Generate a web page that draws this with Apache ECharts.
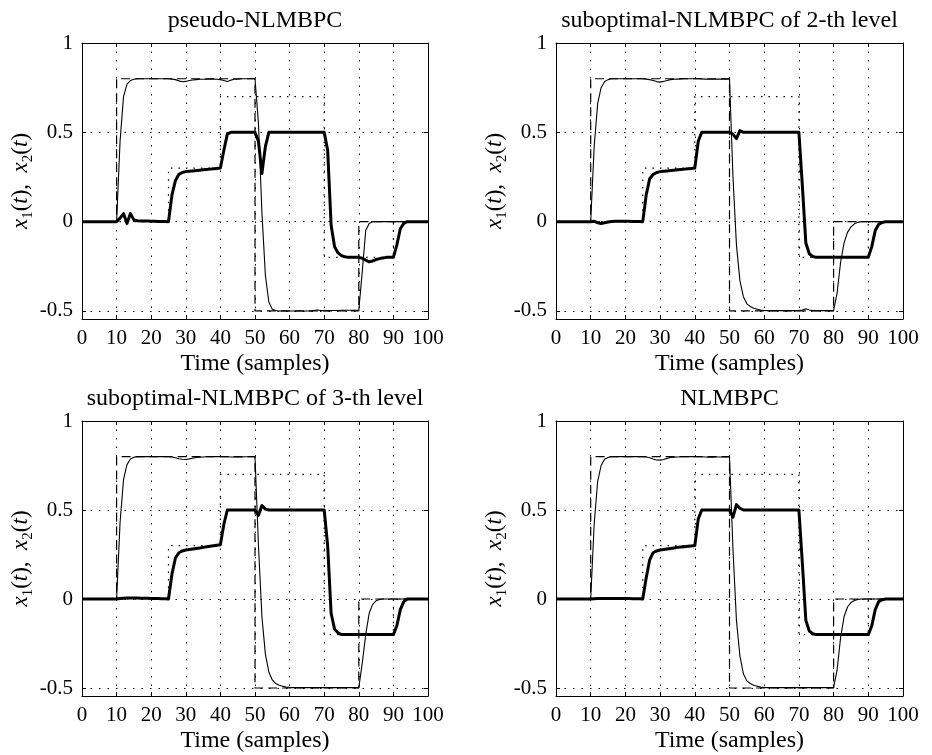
<!DOCTYPE html>
<html>
<head>
<meta charset="utf-8">
<script src="https://cdn.jsdelivr.net/npm/echarts@6/dist/echarts.min.js"></script>
<style>
  html, body { margin: 0; background: #fff; }
  #chart { width: 932px; height: 755px; }
</style>
</head>
<body>
<div id="chart"></div>
<script>
const panelTitles = [
  "pseudo-NLMBPC",
  "suboptimal-NLMBPC of 2-th level",
  "suboptimal-NLMBPC of 3-th level",
  "NLMBPC"
];
const yTicks = [-0.5, 0, 0.5, 1];

// set-points (step changes)
const refX1Time = [0, 10, 50, 80, 100];
const refX1Value = [0, 0.8, -0.5, 0, 0];
const refX2Time = [0, 25, 40, 70, 90, 100];
const refX2Value = [0, 0.3, 0.7, -0.2, 0, 0];

// responses, one value per sample t = 0..100
const x1Pseudo = [
  0, 0, 0, 0, 0, 0, 0, 0, 0, 0,
  0, 0.45, 0.7, 0.77, 0.79, 0.797, 0.8, 0.8, 0.8, 0.8,
  0.8, 0.8, 0.8, 0.8, 0.8, 0.8, 0.798, 0.795, 0.788, 0.783,
  0.785, 0.79, 0.793, 0.795, 0.797, 0.797, 0.798, 0.798, 0.798, 0.797,
  0.795, 0.79, 0.785, 0.792, 0.797, 0.798, 0.8, 0.8, 0.8, 0.8,
  0.8, 0.55, 0.05, -0.3, -0.45, -0.49, -0.497, -0.5, -0.5, -0.5,
  -0.5, -0.5, -0.5, -0.5, -0.5, -0.5, -0.5, -0.497, -0.495, -0.497,
  -0.498, -0.498, -0.497, -0.497, -0.497, -0.496, -0.496, -0.496, -0.496, -0.496,
  -0.496, -0.28, -0.05, -0.01, 0, 0, 0, 0, 0, 0,
  0, 0, 0, 0, 0, 0, 0, 0, 0, 0,
  0
];
const x2Pseudo = [
  0, 0, 0, 0, 0, 0, 0, 0, 0, 0,
  0, 0.02, 0.045, -0.01, 0.045, 0.01, 0.005, 0.004, 0.003, 0.003,
  0.002, 0.002, 0.001, 0.001, 0.001, 0, 0.15, 0.23, 0.265, 0.275,
  0.28, 0.282, 0.284, 0.286, 0.288, 0.29, 0.292, 0.294, 0.296, 0.298,
  0.3, 0.4, 0.49, 0.5, 0.5, 0.5, 0.5, 0.5, 0.5, 0.5,
  0.5, 0.45, 0.27, 0.42, 0.5, 0.5, 0.5, 0.5, 0.5, 0.5,
  0.5, 0.5, 0.5, 0.5, 0.5, 0.5, 0.5, 0.5, 0.5, 0.5,
  0.5, 0.4, -0.02, -0.14, -0.175, -0.19, -0.197, -0.2, -0.2, -0.2,
  -0.2, -0.205, -0.215, -0.225, -0.22, -0.212, -0.207, -0.203, -0.2, -0.2,
  -0.2, -0.13, -0.04, -0.01, 0, 0, 0, 0, 0, 0,
  0
];
const x1Level2 = [
  0, 0, 0, 0, 0, 0, 0, 0, 0, 0,
  0, 0.42, 0.66, 0.75, 0.785, 0.795, 0.8, 0.8, 0.8, 0.8,
  0.8, 0.8, 0.8, 0.8, 0.8, 0.8, 0.798, 0.795, 0.79, 0.784,
  0.781, 0.785, 0.79, 0.795, 0.797, 0.798, 0.799, 0.8, 0.8, 0.8,
  0.8, 0.8, 0.799, 0.798, 0.797, 0.797, 0.798, 0.798, 0.798, 0.798,
  0.798, 0.25, -0.13, -0.33, -0.42, -0.46, -0.475, -0.485, -0.49, -0.495,
  -0.497, -0.498, -0.498, -0.498, -0.498, -0.498, -0.498, -0.498, -0.498, -0.498,
  -0.498, -0.495, -0.488, -0.495, -0.497, -0.498, -0.498, -0.498, -0.498, -0.498,
  -0.498, -0.4, -0.23, -0.12, -0.06, -0.03, -0.012, -0.004, 0, 0,
  0, 0, 0, 0, 0, 0, 0, 0, 0, 0,
  0
];
const x2Level2 = [
  0, 0, 0, 0, 0, 0, 0, 0, 0, 0,
  0, 0.002, -0.006, -0.01, -0.006, -0.002, 0.001, 0.002, 0.002, 0.002,
  0.002, 0.002, 0.001, 0.001, 0.001, 0, 0.15, 0.24, 0.265, 0.275,
  0.28, 0.282, 0.284, 0.286, 0.288, 0.29, 0.292, 0.294, 0.296, 0.298,
  0.3, 0.45, 0.5, 0.5, 0.5, 0.5, 0.5, 0.5, 0.5, 0.5,
  0.5, 0.49, 0.465, 0.51, 0.5, 0.5, 0.5, 0.5, 0.5, 0.5,
  0.5, 0.5, 0.5, 0.5, 0.5, 0.5, 0.5, 0.5, 0.5, 0.5,
  0.5, 0.2, -0.12, -0.18, -0.195, -0.2, -0.2, -0.2, -0.2, -0.2,
  -0.2, -0.2, -0.2, -0.2, -0.2, -0.2, -0.2, -0.2, -0.2, -0.2,
  -0.2, -0.14, -0.05, -0.015, -0.005, 0, 0, 0, 0, 0,
  0
];
const x1Level3 = [
  0, 0, 0, 0, 0, 0, 0, 0, 0, 0,
  0, 0.43, 0.67, 0.755, 0.787, 0.796, 0.8, 0.8, 0.8, 0.8,
  0.8, 0.8, 0.8, 0.8, 0.8, 0.8, 0.798, 0.794, 0.788, 0.785,
  0.784, 0.787, 0.791, 0.795, 0.797, 0.798, 0.799, 0.8, 0.8, 0.8,
  0.8, 0.8, 0.799, 0.798, 0.798, 0.798, 0.798, 0.799, 0.799, 0.799,
  0.799, 0.3, -0.1, -0.31, -0.41, -0.455, -0.475, -0.485, -0.49, -0.495,
  -0.497, -0.498, -0.498, -0.498, -0.498, -0.498, -0.498, -0.498, -0.498, -0.498,
  -0.498, -0.498, -0.498, -0.498, -0.498, -0.498, -0.498, -0.498, -0.498, -0.498,
  -0.498, -0.36, -0.2, -0.08, -0.03, -0.01, -0.003, 0, 0, 0,
  0, 0, 0, 0, 0, 0, 0, 0, 0, 0,
  0
];
const x2Level3 = [
  0, 0, 0, 0, 0, 0, 0, 0, 0, 0,
  0, 0.003, 0.004, 0.005, 0.005, 0.005, 0.005, 0.004, 0.004, 0.004,
  0.003, 0.003, 0.003, 0.002, 0.002, 0, 0.14, 0.23, 0.26, 0.27,
  0.275, 0.278, 0.281, 0.284, 0.287, 0.29, 0.293, 0.296, 0.299, 0.302,
  0.305, 0.42, 0.5, 0.5, 0.5, 0.5, 0.5, 0.5, 0.5, 0.5,
  0.5, 0.47, 0.525, 0.505, 0.5, 0.5, 0.5, 0.5, 0.5, 0.5,
  0.5, 0.5, 0.5, 0.5, 0.5, 0.5, 0.5, 0.5, 0.5, 0.5,
  0.5, 0.3, -0.08, -0.17, -0.19, -0.2, -0.2, -0.2, -0.2, -0.2,
  -0.2, -0.2, -0.2, -0.2, -0.2, -0.2, -0.2, -0.2, -0.2, -0.2,
  -0.2, -0.15, -0.06, -0.015, 0, 0, 0, 0, 0, 0,
  0
];
const x1Full = [
  0, 0, 0, 0, 0, 0, 0, 0, 0, 0,
  0, 0.42, 0.66, 0.75, 0.785, 0.795, 0.8, 0.8, 0.8, 0.8,
  0.8, 0.8, 0.8, 0.8, 0.8, 0.8, 0.798, 0.794, 0.787, 0.781,
  0.78, 0.784, 0.79, 0.795, 0.797, 0.798, 0.799, 0.8, 0.8, 0.8,
  0.8, 0.8, 0.799, 0.798, 0.797, 0.797, 0.798, 0.798, 0.798, 0.798,
  0.798, 0.28, -0.12, -0.32, -0.42, -0.46, -0.475, -0.485, -0.49, -0.495,
  -0.497, -0.498, -0.498, -0.498, -0.498, -0.498, -0.498, -0.498, -0.498, -0.498,
  -0.498, -0.498, -0.498, -0.498, -0.498, -0.498, -0.498, -0.498, -0.498, -0.498,
  -0.498, -0.4, -0.22, -0.1, -0.045, -0.02, -0.008, -0.002, 0, 0,
  0, 0, 0, 0, 0, 0, 0, 0, 0, 0,
  0
];
const x2Full = [
  0, 0, 0, 0, 0, 0, 0, 0, 0, 0,
  0, 0.002, 0.003, 0.003, 0.003, 0.003, 0.003, 0.003, 0.003, 0.003,
  0.003, 0.003, 0.002, 0.002, 0.002, 0, 0.12, 0.22, 0.26, 0.27,
  0.275, 0.278, 0.281, 0.284, 0.287, 0.29, 0.292, 0.294, 0.296, 0.298,
  0.3, 0.45, 0.5, 0.5, 0.5, 0.5, 0.5, 0.5, 0.5, 0.5,
  0.5, 0.46, 0.53, 0.51, 0.5, 0.5, 0.5, 0.5, 0.5, 0.5,
  0.5, 0.5, 0.5, 0.5, 0.5, 0.5, 0.5, 0.5, 0.5, 0.5,
  0.5, 0.2, -0.12, -0.18, -0.195, -0.2, -0.2, -0.2, -0.2, -0.2,
  -0.2, -0.2, -0.2, -0.2, -0.2, -0.2, -0.2, -0.2, -0.2, -0.2,
  -0.2, -0.15, -0.06, -0.015, -0.004, 0, 0, 0, 0, 0,
  0
];

const panels = [
  { title: panelTitles[0], x1: x1Pseudo, x2: x2Pseudo },
  { title: panelTitles[1], x1: x1Level2, x2: x2Level2 },
  { title: panelTitles[2], x1: x1Level3, x2: x2Level3 },
  { title: panelTitles[3], x1: x1Full, x2: x2Full }
];

const boxes = [
  { left: 82, top: 43, width: 346, height: 276 },
  { left: 556, top: 43, width: 347, height: 276 },
  { left: 82, top: 421, width: 346, height: 275 },
  { left: 556, top: 421, width: 347, height: 275 }
];

const font = "Liberation Serif";
const black = "#000";
const chart = echarts.init(document.getElementById("chart"));

const pairs = (xs, ys) => xs.map((x, k) => [x, ys[k]]);
const sampled = (ys) => ys.map((y, t) => [t, y]);

const grid = [], xAxis = [], yAxis = [], series = [], graphic = [];

const axisLine = { onZero: false, lineStyle: { color: black, width: 1 } };
const dotted = { show: true, lineStyle: { color: black, width: 1, type: [1.5, 7] } };

panels.forEach((p, i) => {
  const b = boxes[i];
  grid.push(b);

  xAxis.push({
    type: "value", gridIndex: i, min: 0, max: 100, interval: 10, position: "bottom",
    name: "Time (samples)", nameLocation: "middle", nameGap: 33,
    nameTextStyle: { color: black, fontFamily: font, fontSize: 24 },
    axisLine: axisLine,
    axisTick: { inside: true, length: 4, lineStyle: { color: black } },
    axisLabel: { color: black, fontFamily: font, fontSize: 21, margin: 9 },
    splitLine: dotted
  });
  xAxis.push({
    type: "value", gridIndex: i, min: 0, max: 100, interval: 10, position: "top",
    axisLine: axisLine,
    axisTick: { inside: true, length: 4, lineStyle: { color: black } },
    axisLabel: { show: false }, splitLine: { show: false }
  });

  yAxis.push({
    type: "value", gridIndex: i, min: -0.545, max: 1, position: "left",
    name: "{i|x}{s|1}{n|(}{i|t}{n|),  }{i|x}{s|2}{n|(}{i|t}{n|)}",
    nameLocation: "middle", nameGap: 46,
    nameTextStyle: {
      color: black,
      rich: {
        i: { fontFamily: font, fontStyle: "italic", fontSize: 23, lineHeight: 30, color: black },
        n: { fontFamily: font, fontSize: 23, lineHeight: 30, color: black },
        s: { fontFamily: font, fontSize: 15, lineHeight: 17, verticalAlign: "bottom", color: black }
      }
    },
    axisLine: axisLine,
    axisTick: { inside: true, length: 4, lineStyle: { color: black }, customValues: yTicks },
    axisLabel: { color: black, fontFamily: font, fontSize: 21, margin: 9, customValues: yTicks },
    splitLine: dotted
  });
  yAxis.push({
    type: "value", gridIndex: i, min: -0.545, max: 1, position: "right",
    axisLine: axisLine,
    axisTick: { inside: true, length: 4, lineStyle: { color: black }, customValues: yTicks },
    axisLabel: { show: false }, splitLine: { show: false }
  });

  const xi = 2 * i, yi = 2 * i;
  series.push({
    type: "line", xAxisIndex: xi, yAxisIndex: yi, step: "end", symbol: "none",
    data: pairs(refX2Time, refX2Value),
    lineStyle: { color: black, width: 1.2, type: [1.5, 6] }
  });
  series.push({
    type: "line", xAxisIndex: xi, yAxisIndex: yi, step: "end", symbol: "none",
    data: pairs(refX1Time, refX1Value),
    lineStyle: { color: black, width: 1.2, type: [9, 5] }
  });
  series.push({
    type: "line", xAxisIndex: xi, yAxisIndex: yi, symbol: "none",
    data: sampled(p.x1),
    lineStyle: { color: black, width: 1.1 }
  });
  series.push({
    type: "line", xAxisIndex: xi, yAxisIndex: yi, symbol: "none",
    data: sampled(p.x2),
    lineStyle: { color: black, width: 3, join: "round" }
  });

  graphic.push({
    type: "text", x: b.left + b.width / 2, y: b.top - 22,
    style: {
      text: p.title, fill: black, font: "24px " + font,
      textAlign: "center", textVerticalAlign: "middle"
    }
  });
});

chart.setOption({
  animation: false,
  backgroundColor: "#fff",
  grid: grid,
  xAxis: xAxis,
  yAxis: yAxis,
  series: series,
  graphic: graphic
});
</script>
</body>
</html>
